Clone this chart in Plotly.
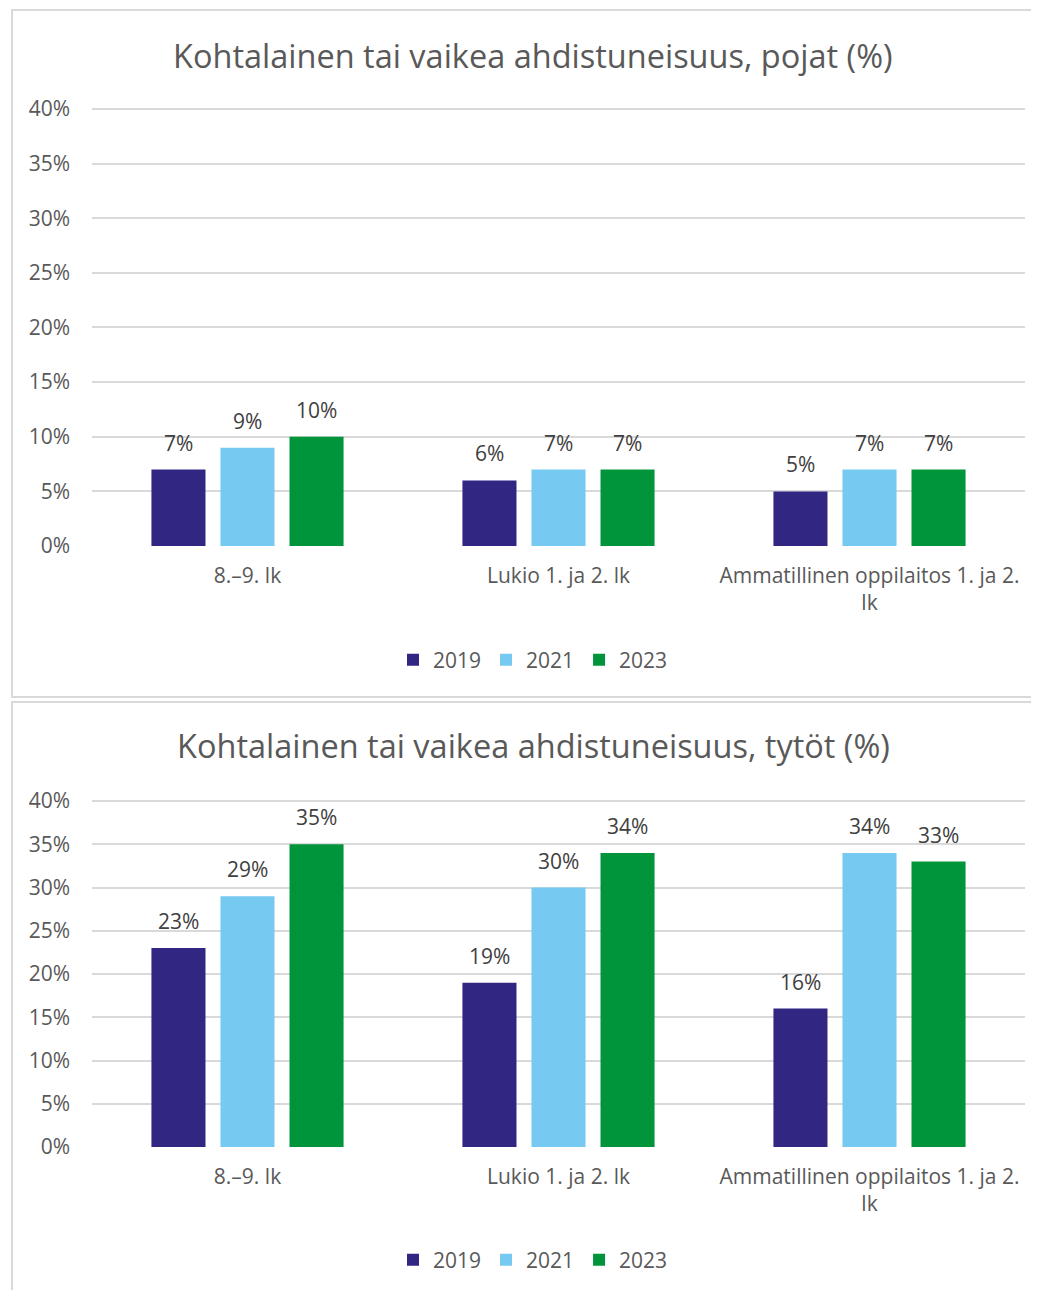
import plotly.graph_objects as go

categories = ["8.–9. lk", "Lukio 1. ja 2. lk", "Ammatillinen oppilaitos 1. ja 2.<br>lk"]
years = ["2019", "2021", "2023"]
boys_2019 = [7, 6, 5]
boys_2021 = [9, 7, 7]
boys_2023 = [10, 7, 7]
girls_2019 = [23, 19, 16]
girls_2021 = [29, 30, 34]
girls_2023 = [35, 34, 33]
y_ticks = [0, 5, 10, 15, 20, 25, 30, 35, 40]
y_tick_labels = [f"{t}%" for t in y_ticks]
title_boys = "Kohtalainen tai vaikea ahdistuneisuus, pojat (%)"
title_girls = "Kohtalainen tai vaikea ahdistuneisuus, tytöt (%)"

colors = ["#312783", "#76C9F0", "#00953A"]
W, H = 1039, 1290
OFF = 8  # page body margin
FONT = "Open Sans"
FS = 21
YMAX = 0.402  # a touch above 40% so the 40% gridline is drawn

def py(px):
    return 1 - (px - OFF) / H

def pxx(px):
    return (px - OFF) / W

def top_px(zero_px, forty_px):
    return zero_px - (zero_px - forty_px) * YMAX / 0.40

fig = go.Figure()
boys = [boys_2019, boys_2021, boys_2023]
girls = [girls_2019, girls_2021, girls_2023]

for i, (yr, vals) in enumerate(zip(years, boys)):
    fig.add_trace(go.Bar(x=categories, y=[v / 100 for v in vals], name=yr,
                         marker=dict(color=colors[i], line=dict(width=0)),
                         xaxis="x", yaxis="y", legend="legend"))
for i, (yr, vals) in enumerate(zip(years, girls)):
    fig.add_trace(go.Bar(x=categories, y=[v / 100 for v in vals], name=yr,
                         marker=dict(color=colors[i], line=dict(width=0)),
                         xaxis="x2", yaxis="y2", legend="legend2"))

annotations = []
slot = 69
for axis_suffix, data in (("", boys), ("2", girls)):
    for i, vals in enumerate(data):
        for c, v in zip(categories, vals):
            annotations.append(dict(x=c, y=v / 100, xref="x" + axis_suffix, yref="y" + axis_suffix,
                                    text=f"{v}%", showarrow=False, yanchor="bottom",
                                    xshift=(i - 1) * slot, yshift=11,
                                    font=dict(family=FONT, size=FS, color="#404040")))

annotations.append(dict(x=pxx(533), y=py(55), xref="paper", yref="paper", text=title_boys,
                        showarrow=False, xanchor="center", yanchor="middle",
                        font=dict(family=FONT, size=32.5, color="#595959")))
annotations.append(dict(x=pxx(533), y=py(746), xref="paper", yref="paper", text=title_girls,
                        showarrow=False, xanchor="center", yanchor="middle",
                        font=dict(family=FONT, size=32.5, color="#595959")))

yaxis_common = dict(range=[0, YMAX], tickvals=[t / 100 for t in y_ticks], ticktext=y_tick_labels,
                    showgrid=True, gridcolor="#d9d9d9", gridwidth=1.5, zeroline=False,
                    showline=False, ticks="", ticklabelstandoff=21, automargin=False,
                    tickfont=dict(family=FONT, size=FS, color="#595959"), fixedrange=True)
xaxis_common = dict(showline=False, ticks="", showgrid=False, ticklabelstandoff=15, automargin=False,
                    tickfont=dict(family=FONT, size=FS, color="#595959"))

shapes = [
    dict(type="rect", xref="paper", yref="paper", x0=pxx(12), x1=pxx(1070), y0=py(697), y1=py(10),
         line=dict(color="#d9d9d9", width=2), fillcolor="rgba(0,0,0,0)", layer="below"),
    dict(type="rect", xref="paper", yref="paper", x0=pxx(12), x1=pxx(1070), y0=py(1320), y1=py(702),
         line=dict(color="#d9d9d9", width=2), fillcolor="rgba(0,0,0,0)", layer="below"),
]

fig.update_layout(
    width=W, height=H,
    margin=dict(l=0, r=0, t=0, b=0, autoexpand=False),
    paper_bgcolor="white", plot_bgcolor="white",
    barmode="group", bargap=0.334, bargroupgap=0.217,
    font=dict(family=FONT, color="#595959"),
    xaxis=dict(domain=[pxx(92), pxx(1025)], anchor="y", **xaxis_common),
    yaxis=dict(domain=[py(546), py(top_px(546, 109))], anchor="x", **yaxis_common),
    xaxis2=dict(domain=[pxx(92), pxx(1025)], anchor="y2", **xaxis_common),
    yaxis2=dict(domain=[py(1147), py(top_px(1147, 801))], anchor="x2", **yaxis_common),
    legend=dict(orientation="h", x=pxx(533), y=py(660), xanchor="center", yanchor="middle",
                font=dict(family=FONT, size=FS, color="#595959"), itemwidth=30, traceorder="normal"),
    legend2=dict(orientation="h", x=pxx(533), y=py(1260), xanchor="center", yanchor="middle",
                 font=dict(family=FONT, size=FS, color="#595959"), itemwidth=30, traceorder="normal"),
    annotations=annotations,
    shapes=shapes,
    showlegend=True,
)

fig.write_html("out.html")
